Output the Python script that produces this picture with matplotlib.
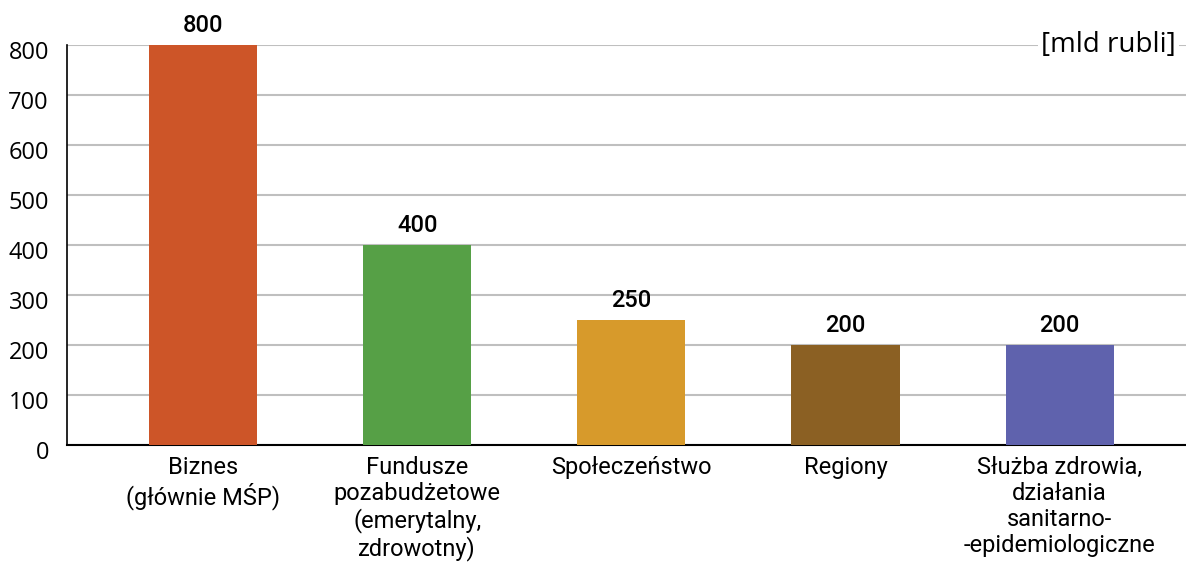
import numpy as np
import matplotlib.pyplot as plt
import matplotlib.transforms as mtransforms

categories = ['Biznes\n(głównie MŚP)',
              'Fundusze\npozabudżetowe\n(emerytalny,\nzdrowotny)',
              'Społeczeństwo',
              'Regiony',
              'Służba zdrowia,\ndziałania\nsanitarno-\n-epidemiologiczne']
values = [800, 400, 250, 200, 200]
colors = ['#CD5528', '#56A046', '#D79A2B', '#8B6023', '#5F62AD']
yticks = [0, 100, 200, 300, 400, 500, 600, 700, 800]

fig = plt.figure(figsize=(11.86, 5.62), dpi=100)
ax = fig.add_axes([0.0565, 0.208, 0.9435, 0.712])

x = np.arange(len(categories))
ax.bar(x, values, width=0.505, color=colors, zorder=3)

for xi, v in zip(x, values):
    ax.annotate(str(v), (xi, v), xytext=(0, 6), textcoords='offset points',
                ha='center', va='bottom', fontsize=17,
                fontfamily='Roboto', fontweight='medium', color='black')

ax.set_xlim(-0.635, 4.59)
ax.set_ylim(0, 800)
ax.set_yticks(yticks)
ax.set_yticklabels([str(t) for t in yticks], fontfamily='Open Sans', fontsize=17)
ax.set_xticks(x)
ax.set_xticklabels(categories, fontfamily='Roboto', fontsize=17, linespacing=1.16)
ax.tick_params(axis='both', length=0)
ax.tick_params(axis='y', pad=13)
ax.tick_params(axis='x', pad=8)

# y labels sit a bit below their gridlines in the original
shift = mtransforms.ScaledTranslation(0, -5 / 100, fig.dpi_scale_trans)
for lab in ax.get_yticklabels():
    lab.set_transform(lab.get_transform() + shift)

ax.grid(axis='y', color='#BFBFBF', linewidth=1.5, zorder=0)
for s in ['top', 'right']:
    ax.spines[s].set_visible(False)
ax.spines['left'].set_color('black')
ax.spines['bottom'].set_color('black')
ax.spines['left'].set_linewidth(1.2)
ax.spines['bottom'].set_linewidth(1.5)

ax.text(0.991, 1.0, '[mld rubli]', transform=ax.transAxes, ha='right', va='center',
        fontfamily='Open Sans', fontsize=20, zorder=5,
        bbox=dict(facecolor='white', edgecolor='none', pad=2))

fig.savefig('out.png', dpi=100)
